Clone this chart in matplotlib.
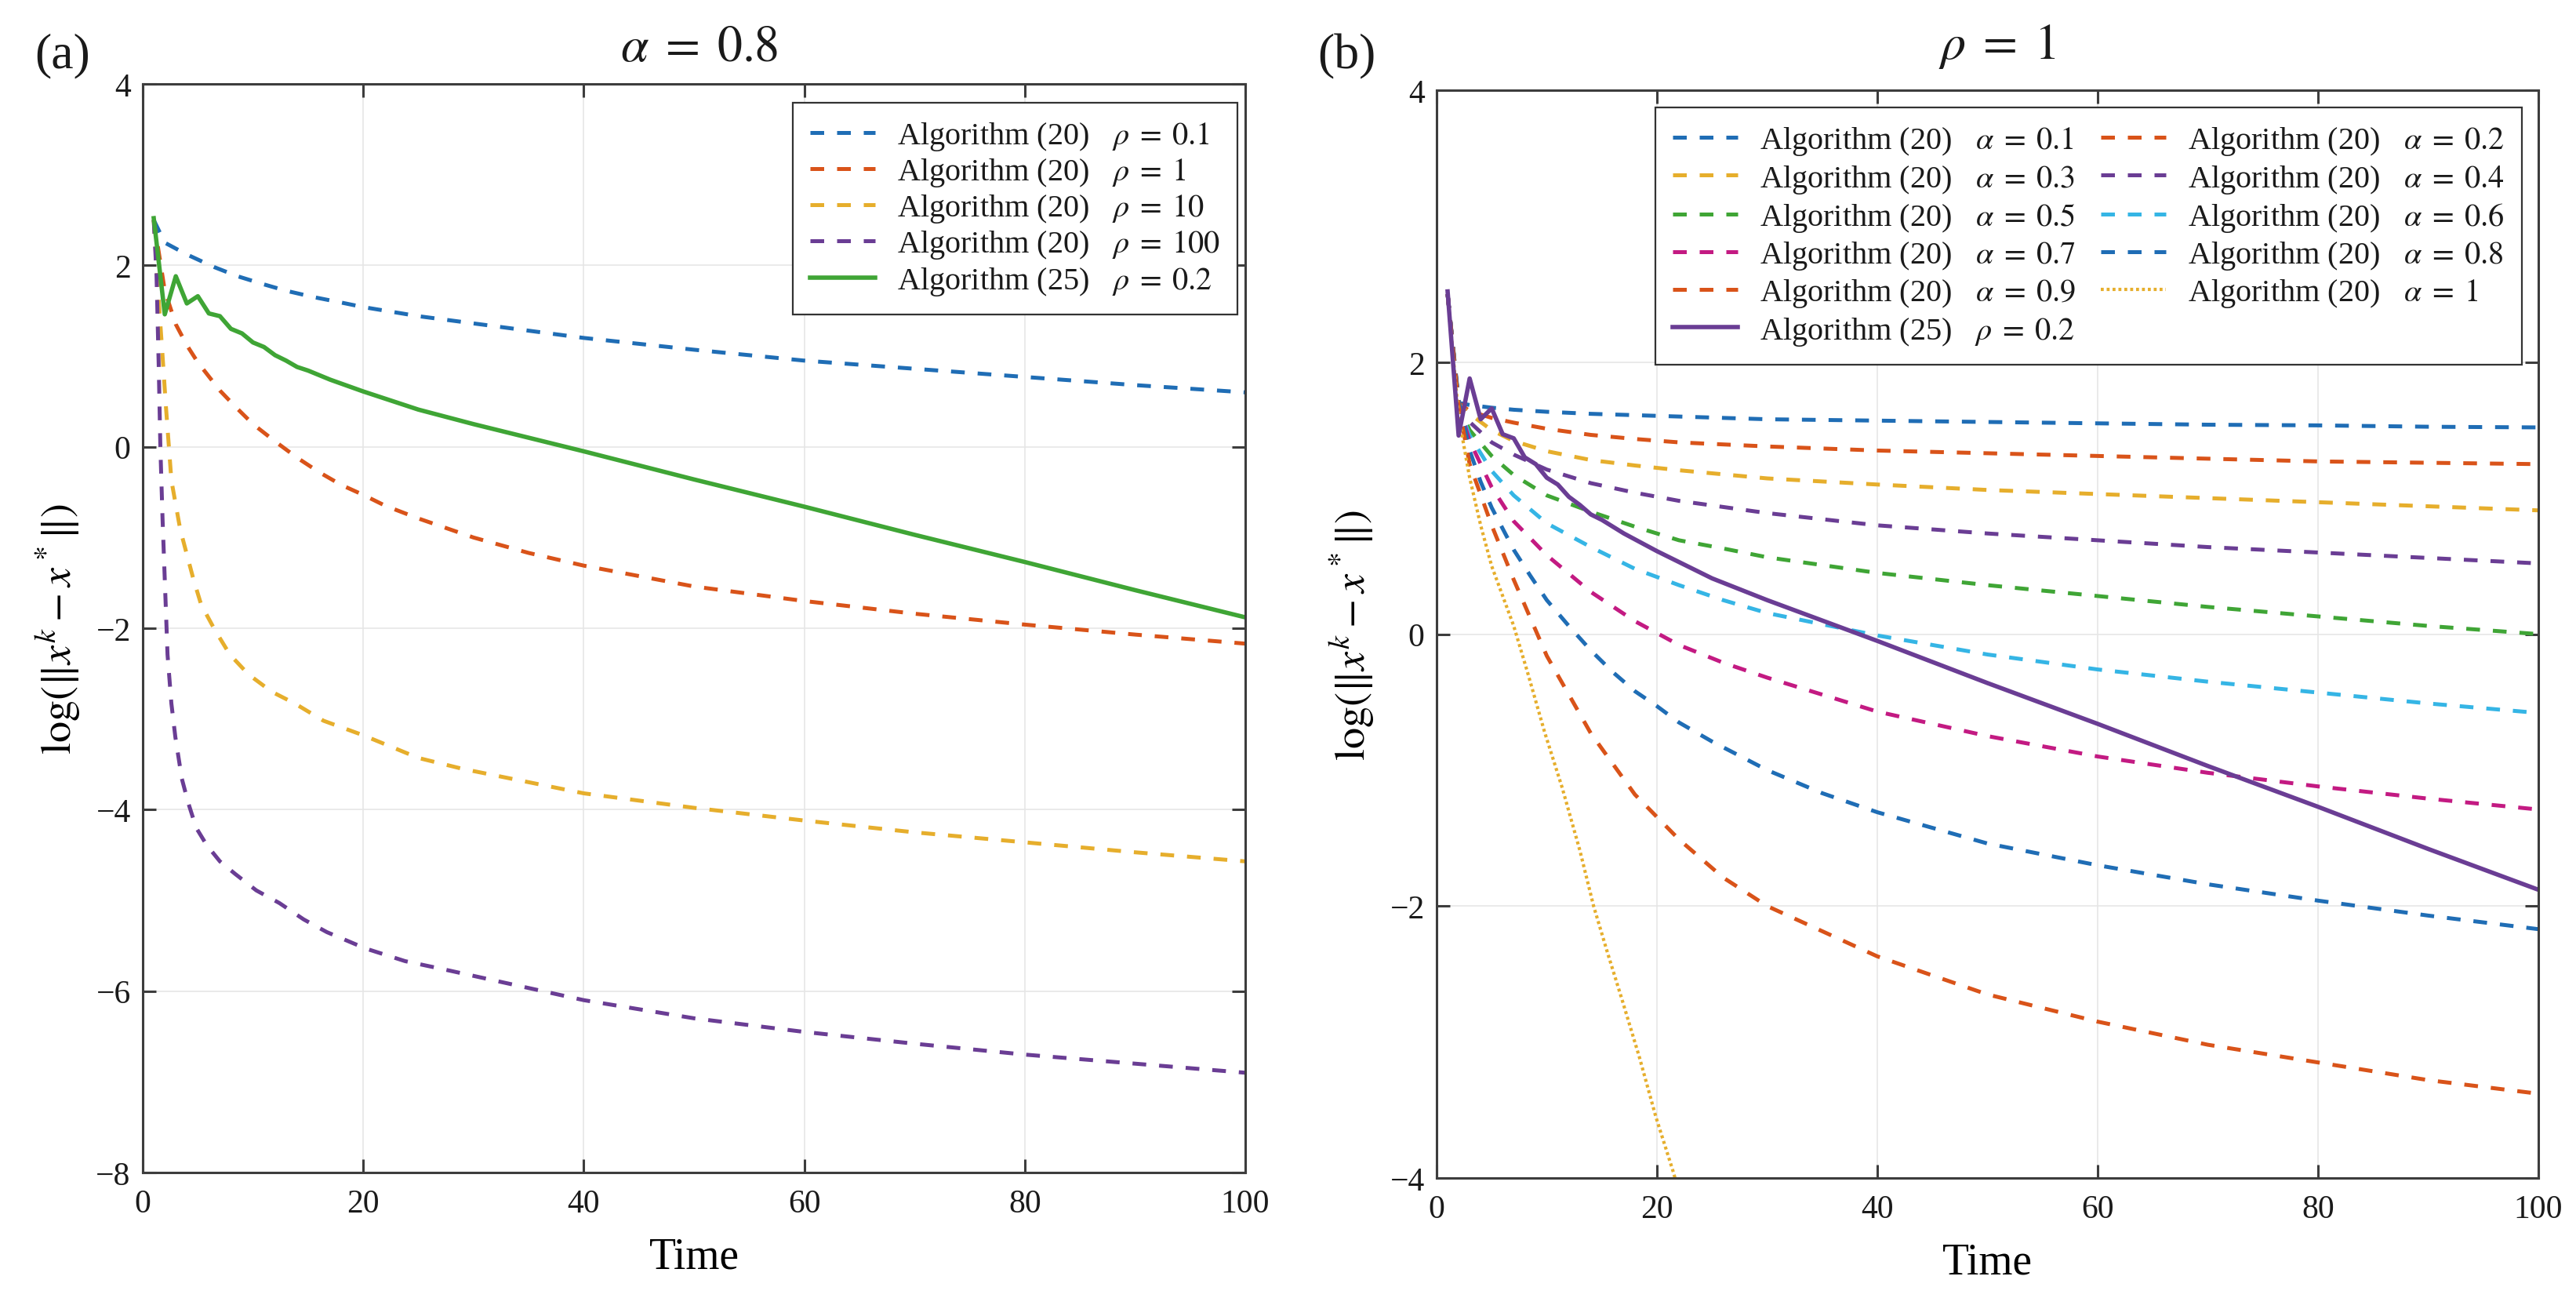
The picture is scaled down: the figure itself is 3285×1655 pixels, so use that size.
import matplotlib
matplotlib.use('Agg')
import matplotlib.pyplot as plt

plt.rcParams['font.family'] = ['Liberation Serif', 'DejaVu Serif']
plt.rcParams['mathtext.fontset'] = 'stix'
plt.rcParams['text.color'] = '#1a1a1a'

# ── Data, panel (a): alpha = 0.8 ───────────────────────────────────────────────
t_rho01 = [1, 2, 4, 6.5, 8.6, 11, 13, 15.5, 18, 20, 22.5, 25, 30, 40, 50, 60, 70, 80, 90, 100]
y_rho01 = [2.5, 2.25, 2.12, 1.98, 1.88, 1.79, 1.72, 1.65, 1.59, 1.54, 1.49, 1.44, 1.36,
           1.2, 1.07, 0.95, 0.86, 0.77, 0.68, 0.6]

t_rho1 = [1, 2, 3, 4, 5, 7, 8.5, 10, 12, 14, 16, 18, 20, 22, 25, 30, 35, 40, 50, 60, 70, 80, 90, 100]
y_rho1 = [2.5, 1.72, 1.35, 1.12, 0.93, 0.62, 0.43, 0.25, 0.06, -0.12, -0.28, -0.42, -0.53,
          -0.65, -0.79, -1.0, -1.17, -1.31, -1.54, -1.70, -1.84, -1.96, -2.07, -2.17]

t_rho10 = [1, 1.4, 1.8, 2.1, 2.6, 3.4, 3.9, 4.6, 5.3, 6.5, 7.9, 9.6, 11.7, 13.8, 16.4, 20, 25, 29,
           40, 50, 60, 70, 80, 90, 100]
y_rho10 = [2.5, 1.7, 1.0, 0.45, -0.37, -0.91, -1.14, -1.46, -1.74, -2.01, -2.29, -2.51, -2.7,
           -2.83, -3.02, -3.18, -3.43, -3.55, -3.82, -3.98, -4.12, -4.25, -4.36, -4.47, -4.57]

t_rho100 = [1, 1.25, 1.45, 1.6, 1.8, 2.0, 2.25, 2.6, 2.96, 3.55, 4.14, 4.85, 5.8, 7, 8.4, 10.3,
            12.4, 14.6, 16.7, 20.2, 23.8, 27.3, 40, 50, 60, 70, 80, 90, 100]
y_rho100 = [2.5, 1.9, 0.9, 0.0, -0.8, -1.46, -2.29, -2.83, -3.2, -3.66, -3.93, -4.2, -4.39,
            -4.57, -4.71, -4.89, -5.03, -5.21, -5.35, -5.53, -5.67, -5.76, -6.1, -6.3, -6.45,
            -6.58, -6.7, -6.8, -6.9]

# Algorithm (25), rho = 0.2 (same curve in both panels)
t_alg25 = [1, 2, 3, 4, 5, 6, 7, 8, 9, 10, 11, 12, 13, 14, 15, 17, 20, 25, 30, 35, 40,
           50, 60, 70, 80, 90, 100]
y_alg25 = [2.52, 1.46, 1.88, 1.58, 1.66, 1.47, 1.44, 1.30, 1.25, 1.15, 1.10, 1.01, 0.95,
           0.88, 0.84, 0.74, 0.61, 0.41, 0.25, 0.10, -0.05, -0.36, -0.66, -0.97, -1.27,
           -1.58, -1.88]

# ── Data, panel (b): rho = 1 ───────────────────────────────────────────────────
t_b = [1, 2, 3, 5, 7, 10, 14, 18, 22, 26, 30, 40, 50, 60, 70, 80, 90, 100]
y_a01 = [2.5, 1.70, 1.685, 1.665, 1.65, 1.635, 1.62, 1.61, 1.60, 1.59, 1.58, 1.57, 1.56,
         1.55, 1.54, 1.535, 1.525, 1.52]
y_a02 = [2.5, 1.70, 1.64, 1.59, 1.555, 1.51, 1.465, 1.435, 1.41, 1.395, 1.38, 1.35, 1.33,
         1.31, 1.29, 1.27, 1.26, 1.25]
y_a03 = [2.5, 1.69, 1.62, 1.50, 1.42, 1.345, 1.28, 1.24, 1.205, 1.175, 1.145, 1.10, 1.06,
         1.03, 1.0, 0.97, 0.94, 0.91]
y_a04 = [2.5, 1.69, 1.56, 1.41, 1.32, 1.21, 1.11, 1.04, 0.98, 0.935, 0.89, 0.80, 0.74,
         0.69, 0.64, 0.60, 0.56, 0.52]
y_a05 = [2.5, 1.68, 1.50, 1.31, 1.17, 1.02, 0.90, 0.79, 0.69, 0.63, 0.565, 0.45, 0.36,
         0.28, 0.2, 0.13, 0.06, 0.0]
y_a06 = [2.5, 1.68, 1.46, 1.20, 1.02, 0.815, 0.64, 0.48, 0.36, 0.25, 0.155, -0.01, -0.15,
         -0.26, -0.35, -0.43, -0.51, -0.58]
y_a07 = [2.5, 1.68, 1.42, 1.08, 0.83, 0.58, 0.31, 0.095, -0.08, -0.21, -0.32, -0.57, -0.75,
         -0.9, -1.02, -1.12, -1.21, -1.29]
y_a09 = [2.5, 1.68, 1.25, 0.80, 0.40, -0.16, -0.73, -1.18, -1.51, -1.79, -2.0, -2.37, -2.65,
         -2.85, -3.02, -3.15, -3.28, -3.38]
t_a10 = [1, 2, 3, 4, 5, 7, 8.25, 9.8, 11.4, 13, 14.25, 15.5, 16.8, 18.4, 19.9, 21.5, 22.5]
y_a10 = [2.5, 1.6, 1.15, 0.8, 0.5, 0.06, -0.28, -0.72, -1.13, -1.59, -2.0, -2.34, -2.68,
         -3.11, -3.55, -3.96, -4.25]

# ── Styling ────────────────────────────────────────────────────────────────────
blue, orange, yellow = '#1f6db5', '#d95319', '#e6ae2c'
purple, green, cyan, magenta = '#6a3d94', '#3fa535', '#35b5e5', '#c31a82'
dash = (0, (3.5, 3.3))
dot = (0, (0.9, 0.9))
lw_d, lw_s = 3.6, 4.0
tick_fs, leg_fs = 30, 29
leg_kw = dict(borderaxespad=0, fontsize=leg_fs, fancybox=False, framealpha=1,
              edgecolor='#333333', handlelength=2.05, handletextpad=0.7, borderpad=0.55)


def lab(alg, sym, val):
    return r'Algorithm (%s)   $\%s\;=\;%s$' % (alg, sym, val)


def style_axes(ax, ylim, yticks):
    ax.set_xlim(0, 100)
    ax.set_ylim(*ylim)
    ax.set_xticks(range(0, 101, 20))
    ax.set_yticks(yticks)
    ax.grid(True, color='#e6e6e6', lw=1.2)
    ax.set_axisbelow(True)
    for s in ax.spines.values():
        s.set_color('#3d3d3d')
        s.set_linewidth(2.2)
    ax.tick_params(direction='in', top=True, right=True, length=12, width=2.2,
                   color='#3d3d3d', labelsize=tick_fs, labelcolor='#1a1a1a')
    ax.tick_params(axis='x', pad=15)
    ax.tick_params(axis='y', pad=11)
    ax.set_xlabel('Time', fontsize=40, labelpad=16)
    ax.set_ylabel(r'$\log(\|x^k-x^*\|)$', fontsize=39)
    ax.yaxis.set_label_coords(-0.055, 0.5)


fig = plt.figure(figsize=(32.85, 16.56), dpi=100)
ax1 = fig.add_axes([182 / 3285, 1 - 1496 / 1656, 1406 / 3285, 1388 / 1656])
ax2 = fig.add_axes([1832 / 3285, 1 - 1503 / 1656, 1405 / 3285, 1387 / 1656])

# ── Panel (a) ──────────────────────────────────────────────────────────────────
ax1.plot(t_rho01, y_rho01, color=blue, ls=dash, lw=lw_d, label=lab('20', 'rho', '0.1'))
ax1.plot(t_rho1, y_rho1, color=orange, ls=dash, lw=lw_d, label=lab('20', 'rho', '1'))
ax1.plot(t_rho10, y_rho10, color=yellow, ls=dash, lw=lw_d, label=lab('20', 'rho', '10'))
ax1.plot(t_rho100, y_rho100, color=purple, ls=dash, lw=lw_d, label=lab('20', 'rho', '100'))
ax1.plot(t_alg25, y_alg25, color=green, lw=lw_s, label=lab('25', 'rho', '0.2'))
style_axes(ax1, (-8, 4), range(-8, 5, 2))
leg1 = ax1.legend(loc='upper right', bbox_to_anchor=(0.993, 0.983), labelspacing=0.13, **leg_kw)
leg1.get_frame().set_linewidth(1.6)

# ── Panel (b) ──────────────────────────────────────────────────────────────────
lines = {}
lines['0.1'] = ax2.plot(t_b, y_a01, color=blue, ls=dash, lw=lw_d)[0]
lines['0.2'] = ax2.plot(t_b, y_a02, color=orange, ls=dash, lw=lw_d)[0]
lines['0.3'] = ax2.plot(t_b, y_a03, color=yellow, ls=dash, lw=lw_d)[0]
lines['0.4'] = ax2.plot(t_b, y_a04, color=purple, ls=dash, lw=lw_d)[0]
lines['0.5'] = ax2.plot(t_b, y_a05, color=green, ls=dash, lw=lw_d)[0]
lines['0.6'] = ax2.plot(t_b, y_a06, color=cyan, ls=dash, lw=lw_d)[0]
lines['0.7'] = ax2.plot(t_b, y_a07, color=magenta, ls=dash, lw=lw_d)[0]
lines['0.8'] = ax2.plot(t_rho1, y_rho1, color=blue, ls=dash, lw=lw_d)[0]
lines['0.9'] = ax2.plot(t_b, y_a09, color=orange, ls=dash, lw=lw_d)[0]
lines['1'] = ax2.plot(t_a10, y_a10, color=yellow, ls=dot, lw=3.0)[0]
alg25 = ax2.plot(t_alg25, y_alg25, color=purple, lw=lw_s)[0]
style_axes(ax2, (-4, 4), range(-4, 5, 2))

# two-column legend filled row by row
col1 = ['0.1', '0.3', '0.5', '0.7', '0.9']
col2 = ['0.2', '0.4', '0.6', '0.8', '1']
handles = [lines[a] for a in col1] + [alg25] + [lines[a] for a in col2]
labels = ([lab('20', 'alpha', a) for a in col1] + [lab('25', 'rho', '0.2')] +
          [lab('20', 'alpha', a) for a in col2])
leg2 = ax2.legend(handles, labels, ncol=2, loc='upper right', bbox_to_anchor=(0.985, 0.984),
                  columnspacing=0.8, labelspacing=0.18, **leg_kw)
leg2.get_frame().set_linewidth(1.6)

# ── Titles and panel labels ────────────────────────────────────────────────────
fig.text(892 / 3285, 1 - 63 / 1656, r'$\alpha\;=\;0.8$', fontsize=46, ha='center', va='center')
fig.text(2547 / 3285, 1 - 60 / 1656, r'$\rho\;=\;1$', fontsize=46, ha='center', va='center')
fig.text(80 / 3285, 1 - 71 / 1656, '(a)', fontsize=46, ha='center', va='center')
fig.text(1717 / 3285, 1 - 72 / 1656, '(b)', fontsize=46, ha='center', va='center')

fig.savefig('out.png', dpi=100)
